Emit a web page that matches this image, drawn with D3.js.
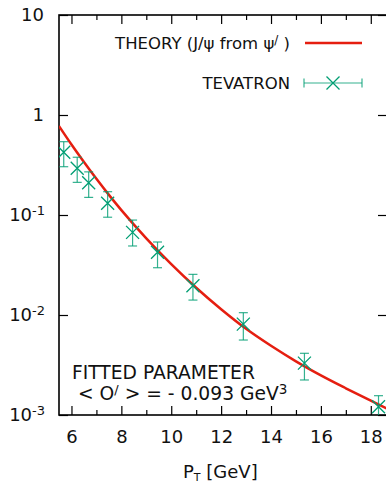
<!DOCTYPE html>
<html>
<head>
<meta charset="utf-8">
<script src="https://cdn.jsdelivr.net/npm/d3@7"></script>
<style>
  body { margin: 0; background: #fff; }
  svg { display: block; font-family: "DejaVu Sans", sans-serif; }
</style>
</head>
<body>
<svg id="chart" width="386" height="484"></svg>
<script>
// measured data (TEVATRON)
const ptData = [5.69, 6.23, 6.69, 7.45, 8.45, 9.45, 10.87, 12.89, 15.34, 18.31];
const yData = [0.424, 0.293, 0.210, 0.131, 0.067, 0.0424, 0.0196, 0.0081, 0.0033, 0.00121];
const yErrHi = [0.541, 0.378, 0.270, 0.171, 0.089, 0.0537, 0.0255, 0.01055, 0.00414, 0.00156];
const yErrLo = [0.304, 0.212, 0.150, 0.095, 0.049, 0.0297, 0.0141, 0.00562, 0.00224, 0.00088];

// theory curve
const ptTheory = [5.5, 6, 6.5, 7, 7.5, 8, 9, 10, 11, 12, 13, 14, 15, 16, 17, 18, 18.65];
const yTheory = [0.776, 0.507, 0.339, 0.230, 0.159, 0.112, 0.0585, 0.0323, 0.01875, 0.01143,
                 0.00728, 0.00492, 0.00344, 0.00249, 0.00185, 0.00139, 0.00116];

const yTicks = [1e-3, 1e-2, 1e-1, 1, 10];
const yTickLabels = [["10", "-3"], ["10", "-2"], ["10", "-1"], ["1", ""], ["10", ""]];
const xMajor = [6, 8, 10, 12, 14, 16, 18];
const xMinor = [7, 9, 11, 13, 15, 17];

const RED = "#e51e10";
const GREEN = "#009e73";

const svg = d3.select("#chart");
const plotL = 59, plotR = 387, plotT = 15, plotB = 415;

const x = d3.scaleLinear().domain([5.5, 18.65]).range([plotL, plotR]);
const y = d3.scaleLog().domain([1e-3, 10]).range([plotB, plotT]);

// clip for data
svg.append("defs").append("clipPath").attr("id", "clip")
  .append("rect").attr("x", plotL).attr("y", plotT).attr("width", plotR - plotL).attr("height", plotB - plotT);

// axes (ticks point inward)
function styleAxis(g) {
  g.select(".domain").remove();
  g.selectAll("line").attr("stroke", "#000").attr("stroke-width", 1.2);
}

svg.append("g").attr("transform", `translate(0,${plotB})`)
  .call(d3.axisBottom(x).tickValues(xMajor).tickSize(-9).tickPadding(15).tickFormat(d3.format("d")))
  .call(styleAxis)
  .call(g => g.selectAll("text").attr("font-size", 18).attr("fill", "#111").attr("font-family", "DejaVu Sans"));
svg.append("g").attr("transform", `translate(0,${plotB})`)
  .call(d3.axisBottom(x).tickValues(xMinor).tickSize(-5).tickFormat(""))
  .call(styleAxis);
svg.append("g").attr("transform", `translate(0,${plotT})`)
  .call(d3.axisTop(x).tickValues(xMajor).tickSize(-9).tickFormat(""))
  .call(styleAxis);
svg.append("g").attr("transform", `translate(0,${plotT})`)
  .call(d3.axisTop(x).tickValues(xMinor).tickSize(-5).tickFormat(""))
  .call(styleAxis);
svg.append("g").attr("transform", `translate(${plotL},0)`)
  .call(d3.axisLeft(y).tickValues(yTicks).tickSize(-9).tickFormat(""))
  .call(styleAxis);
svg.append("g").attr("transform", `translate(${plotR},0)`)
  .call(d3.axisRight(y).tickValues(yTicks).tickSize(-9).tickFormat(""))
  .call(styleAxis);

// y tick labels with superscripts
const yLab = svg.append("g").attr("font-size", 18).attr("fill", "#111");
yTicks.forEach((v, i) => {
  const [base, sup] = yTickLabels[i];
  const t = yLab.append("text")
    .attr("x", sup ? 45 : 44).attr("y", y(v)).attr("dy", "0.36em")
    .attr("text-anchor", "end");
  t.append("tspan").text(base);
  if (sup) t.append("tspan").attr("font-size", 13).attr("dy", -6.5).text(sup);
});

// frame
svg.append("rect")
  .attr("x", plotL).attr("y", plotT).attr("width", plotR - plotL).attr("height", plotB - plotT)
  .attr("fill", "none").attr("stroke", "#000").attr("stroke-width", 1.6);

const plot = svg.append("g").attr("clip-path", "url(#clip)");

// theory curve
const line = d3.line()
  .x((d, i) => x(ptTheory[i]))
  .y(d => y(d))
  .curve(d3.curveMonotoneX);
plot.append("path")
  .datum(yTheory)
  .attr("d", line)
  .attr("fill", "none")
  .attr("stroke", RED)
  .attr("stroke-width", 2.5);

// data points with error bars
const pts = plot.selectAll(".pt").data(ptData).enter().append("g")
  .attr("stroke", GREEN).attr("fill", "none");
pts.append("line")
  .attr("x1", d => x(d)).attr("x2", d => x(d))
  .attr("y1", (d, i) => y(yErrHi[i])).attr("y2", (d, i) => y(yErrLo[i]))
  .attr("stroke-width", 1.2).attr("stroke-opacity", 0.8);
pts.append("line")
  .attr("x1", d => x(d) - 4.5).attr("x2", d => x(d) + 4.5)
  .attr("y1", (d, i) => y(yErrHi[i])).attr("y2", (d, i) => y(yErrHi[i]))
  .attr("stroke-width", 1.2).attr("stroke-opacity", 0.8);
pts.append("line")
  .attr("x1", d => x(d) - 4.5).attr("x2", d => x(d) + 4.5)
  .attr("y1", (d, i) => y(yErrLo[i])).attr("y2", (d, i) => y(yErrLo[i]))
  .attr("stroke-width", 1.2).attr("stroke-opacity", 0.8);
pts.append("path")
  .attr("d", (d, i) => {
    const cx = x(d), cy = y(yData[i]), s = 6.5;
    return `M${cx - s},${cy - s}L${cx + s},${cy + s}M${cx - s},${cy + s}L${cx + s},${cy - s}`;
  })
  .attr("stroke-width", 1.3);

// legend
const leg = svg.append("g").attr("font-size", 16.5).attr("fill", "#111");
const t1 = leg.append("text").attr("x", 290).attr("y", 49).attr("text-anchor", "end");
t1.append("tspan").text("THEORY (J/ψ from ψ");
t1.append("tspan").attr("font-size", 12).attr("dy", -5).text("/");
t1.append("tspan").attr("dy", 5).text(" )");
leg.append("line").attr("x1", 305).attr("x2", 362).attr("y1", 43).attr("y2", 43)
  .attr("stroke", RED).attr("stroke-width", 2.5);

leg.append("text").attr("x", 290).attr("y", 89).attr("text-anchor", "end").text("TEVATRON");
const lg = leg.append("g").attr("stroke", GREEN).attr("fill", "none").attr("stroke-width", 1.2);
lg.append("line").attr("x1", 304).attr("x2", 362).attr("y1", 83).attr("y2", 83).attr("stroke-opacity", 0.8);
lg.append("line").attr("x1", 304).attr("x2", 304).attr("y1", 78.5).attr("y2", 87.5).attr("stroke-opacity", 0.8);
lg.append("line").attr("x1", 362).attr("x2", 362).attr("y1", 78.5).attr("y2", 87.5).attr("stroke-opacity", 0.8);
lg.append("path").attr("d", "M326.5,76.5L339.5,89.5M326.5,89.5L339.5,76.5").attr("stroke-width", 1.3);

// annotation
const ann = svg.append("g").attr("font-size", 18.7).attr("fill", "#111");
ann.append("text").attr("x", 72).attr("y", 379).text("FITTED PARAMETER");
const t2 = ann.append("text").attr("x", 78).attr("y", 400);
t2.append("tspan").text("< O");
t2.append("tspan").attr("font-size", 13).attr("dy", -6).text("/");
t2.append("tspan").attr("dy", 6).text(" > = - 0.093 GeV");
t2.append("tspan").attr("font-size", 13.5).attr("dy", -6.5).text("3");

// x axis title
const xt = svg.append("text").attr("x", 183).attr("y", 478).attr("font-size", 18).attr("fill", "#111");
xt.append("tspan").text("P");
xt.append("tspan").attr("font-size", 11).attr("dy", 2.5).text("T");
xt.append("tspan").attr("dy", -2.5).text(" [GeV]");
</script>
</body>
</html>
